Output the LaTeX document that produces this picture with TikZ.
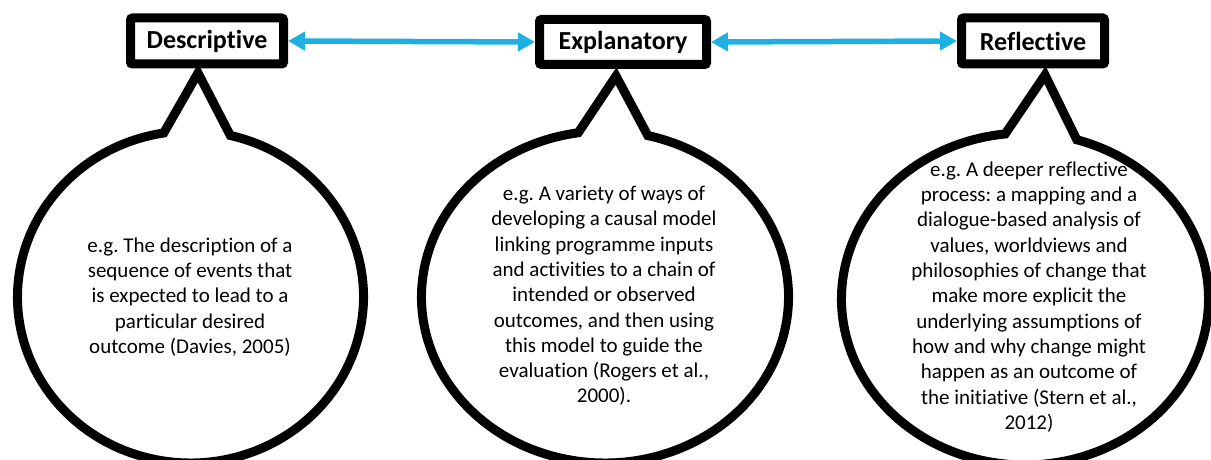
\documentclass[tikz,border=0pt]{standalone}
\usepackage{fontspec}
\setmainfont{Carlito}[Ligatures=NoCommon]
\usetikzlibrary{arrows.meta}
\definecolor{linkblue}{RGB}{30,176,226}
\frenchspacing
\begin{document}
\begin{tikzpicture}[x=1pt,y=1pt,
  heading/.style={draw=black, fill=white, line width=9pt, rounded corners=2pt,
    minimum height=46pt, inner sep=0pt, font=\fontsize{26}{30}\selectfont\bfseries},
  bubble/.style={draw=black, fill=white, line width=9pt, line join=miter},
  bubbletext/.style={align=center, inner sep=0pt, font=\fontsize{21}{25.3}\selectfont},
  link/.style={draw=linkblue, line width=5.5pt,
    {Triangle[length=17pt,width=18pt]}-{Triangle[length=17pt,width=18pt]}}
]
\useasboundingbox (0,0) rectangle (1211,460);
\clip (0,0) rectangle (1211,460);

% speech bubbles: ellipse with a pointed tail up to the heading
\draw[bubble] ([shift={(190.5,163)}]98.9:173 and 166) -- (198,387)
  -- ([shift={(190.5,163)}]76.7:173 and 166)
  arc[start angle=76.7, end angle=-261.1, x radius=173, y radius=166] -- cycle;
\draw[bubble] ([shift={(605,163)}]98.4:183.5 and 166) -- (616,384)
  -- ([shift={(605,163)}]76.5:183.5 and 166)
  arc[start angle=76.5, end angle=-261.6, x radius=183.5, y radius=166] -- cycle;
\draw[bubble] ([shift={(1025,161)}]96.2:183.5 and 166) -- (1045,385)
  -- ([shift={(1025,161)}]73.6:183.5 and 166)
  arc[start angle=73.6, end angle=-263.8, x radius=183.5, y radius=166] -- cycle;

% headings
\node[heading, minimum width=153pt] (desc) at (207,419) {Descriptive\hspace{3.4pt}};
\node[heading, minimum width=167pt, minimum height=45pt] (expl) at (623,418) {Explanatory\hspace{8.6pt}};
\node[heading, minimum width=143pt] (refl) at (1033,419) {Reflective\hspace{8pt}};

% bubble texts
\node[bubbletext] (desctext) at (190,163) {e.g. The description of a\\ sequence of events that\\ is expected to lead to a\\ particular desired\\ outcome (Davies, 2005)};
\node[bubbletext] (expltext) at (604,164) {e.g. A variety of ways of\\ developing a causal model\\ linking programme inputs\\ and activities to a chain of\\ intended or observed\\ outcomes, and then using\\ this model to guide the\\ evaluation (Rogers et al.,\\ 2000).};
\node[bubbletext] (refltext) at (1029,163) {e.g. A deeper reflective\\ process: a mapping and a\\ dialogue-based analysis of\\ values, worldviews and\\ philosophies of change that\\ make more explicit the\\ underlying assumptions of\\ how and why change might\\ happen as an outcome of\\ the initiative (Stern et al.,\\ 2012)};

% two-way links between headings
\draw[link] (desc.east) -- (expl.west);
\draw[link] (expl.east) -- (refl.west);
\end{tikzpicture}
\end{document}
